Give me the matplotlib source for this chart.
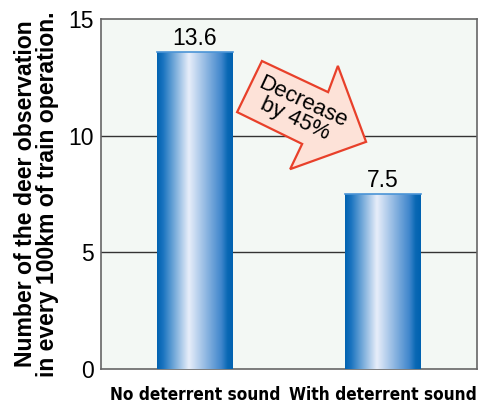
import numpy as np
import matplotlib
matplotlib.use("Agg")
import matplotlib.pyplot as plt
from matplotlib.colors import LinearSegmentedColormap
from matplotlib.patches import Polygon

# Deer sightings per 100 km of train operation
categories = ['No deterrent sound', 'With deterrent sound']
values = [13.6, 7.5]
yticks = [0, 5, 10, 15]

plt.rcParams['font.family'] = ['Liberation Sans', 'DejaVu Sans']

fig = plt.figure(figsize=(4.83, 4.03), dpi=100)
ax = fig.add_axes([101 / 483, 34 / 403, 376 / 483, 350 / 403])
ax.set_facecolor('#f3f8f4')

x = np.arange(len(categories))
bars = ax.bar(x, values, width=0.4, color='none', zorder=3)

# metallic blue gradient inside each bar
bar_cmap = LinearSegmentedColormap.from_list('barblue', [
    (0.0, '#0062b0'), (0.08, '#1a74c0'), (0.42, '#e8eefa'),
    (0.85, '#3f86cc'), (0.93, '#0a68b4'), (1.0, '#0062b0')])
grad = np.linspace(0, 1, 256).reshape(1, -1)
for b in bars:
    x0, y0 = b.get_x(), b.get_y()
    w, h = b.get_width(), b.get_height()
    im = ax.imshow(grad, cmap=bar_cmap, aspect='auto', zorder=3,
                   extent=[x0, x0 + w, y0, y0 + h], interpolation='bicubic')
    im.set_clip_path(b)
    ax.plot([x0, x0 + w], [y0 + h, y0 + h], color='#4a94d6', lw=1.2, zorder=4)
    ax.text(x0 + w / 2, y0 + h + 0.08, f'{h:.1f}', ha='center', va='bottom',
            fontsize=16.5, zorder=5)

ax.set_xlim(-0.5, 1.5)
ax.set_ylim(0, 15)
ax.set_yticks(yticks)
ax.set_yticklabels([str(t) for t in yticks], fontsize=16.5)
ax.set_xticks(x)
ax.set_xticklabels(categories, fontsize=12.3, fontweight='bold',
                   family='DejaVu Sans', fontstretch='condensed')
ax.tick_params(axis='both', length=0, pad=5)
ax.tick_params(axis='x', pad=12)
for t in yticks[1:3]:
    ax.axhline(t, color='#333333', lw=1.0, zorder=1)
for s in ax.spines.values():
    s.set_color('#666666')
    s.set_linewidth(1.2)

ax.set_ylabel('Number of the deer observation\nin every 100km of train operation.',
              fontsize=16.6, fontweight='bold', labelpad=7, linespacing=0.92)

# "Decrease by 45%" arrow between the bars
arrow_pts = [(0.362, 0.734), (0.428, 0.880), (0.604, 0.791), (0.630, 0.866),
             (0.705, 0.649), (0.503, 0.571), (0.535, 0.643)]
ax.add_patch(Polygon(arrow_pts, closed=True, transform=ax.transAxes,
                     facecolor='#fde2d8', edgecolor='#e8402a', lw=1.6, zorder=6))
ax.text(0.526, 0.738, 'Decrease\nby 45%', transform=ax.transAxes, rotation=-25,
        ha='center', va='center', fontsize=16, linespacing=0.9,
        rotation_mode='anchor', zorder=7)

fig.savefig('out.png', dpi=100)
